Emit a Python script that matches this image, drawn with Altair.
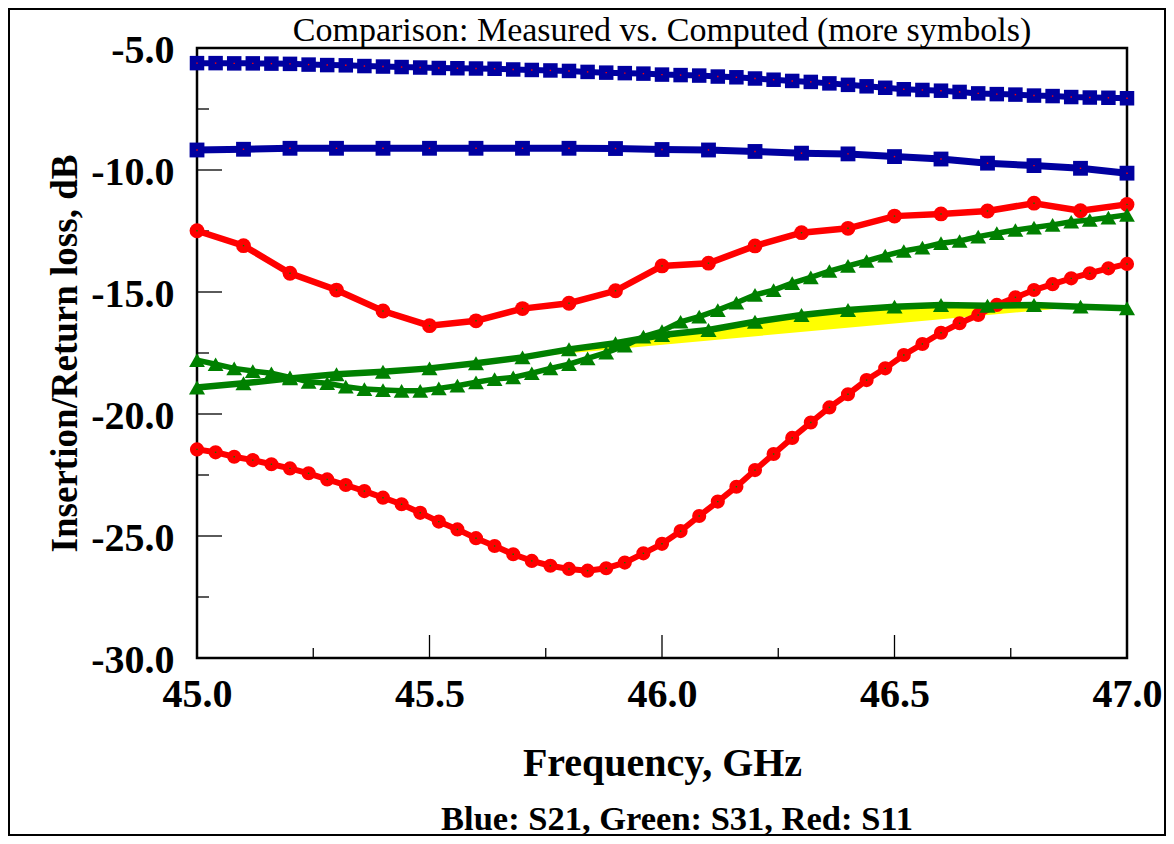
import altair as alt
import pandas as pd

# ---------------- data ----------------
freq_dense = [45.00, 45.04, 45.08, 45.12, 45.16, 45.20, 45.24, 45.28, 45.32, 45.36,
              45.40, 45.44, 45.48, 45.52, 45.56, 45.60, 45.64, 45.68, 45.72, 45.76,
              45.80, 45.84, 45.88, 45.92, 45.96, 46.00, 46.04, 46.08, 46.12, 46.16,
              46.20, 46.24, 46.28, 46.32, 46.36, 46.40, 46.44, 46.48, 46.52, 46.56,
              46.60, 46.64, 46.68, 46.72, 46.76, 46.80, 46.84, 46.88, 46.92, 46.96, 47.00]

freq_sparse = [45.0, 45.1, 45.2, 45.3, 45.4, 45.5, 45.6, 45.7, 45.8, 45.9, 46.0,
               46.1, 46.2, 46.3, 46.4, 46.5, 46.6, 46.7, 46.8, 46.9, 47.0]

s21_dense = [-5.62, -5.62, -5.63, -5.63, -5.64, -5.65, -5.68, -5.70, -5.71, -5.74,
             -5.76, -5.78, -5.80, -5.82, -5.83, -5.84, -5.85, -5.88, -5.90, -5.92,
             -5.94, -5.98, -6.01, -6.03, -6.05, -6.09, -6.11, -6.13, -6.17, -6.20,
             -6.25, -6.30, -6.35, -6.39, -6.45, -6.51, -6.57, -6.63, -6.69, -6.72,
             -6.75, -6.80, -6.86, -6.89, -6.91, -6.95, -6.97, -7.01, -7.03, -7.04, -7.06]

s11_dense = [-21.45, -21.57, -21.75, -21.89, -22.06, -22.23, -22.43, -22.68, -22.91, -23.16,
             -23.43, -23.70, -24.05, -24.41, -24.73, -25.09, -25.41, -25.75, -26.02, -26.22,
             -26.35, -26.42, -26.32, -26.09, -25.71, -25.32, -24.80, -24.18, -23.59, -22.98,
             -22.30, -21.64, -20.98, -20.35, -19.73, -19.19, -18.61, -18.13, -17.58, -17.13,
             -16.67, -16.28, -15.94, -15.53, -15.22, -14.92, -14.68, -14.44, -14.23, -14.03, -13.85]

s31_dense = [-17.79, -17.96, -18.13, -18.24, -18.33, -18.50, -18.68, -18.74, -18.88, -18.98,
             -19.02, -19.05, -19.05, -18.95, -18.84, -18.70, -18.57, -18.50, -18.33, -18.13,
             -17.96, -17.72, -17.49, -17.20, -16.83, -16.60, -16.22, -16.01, -15.74, -15.44,
             -15.12, -14.92, -14.64, -14.40, -14.14, -13.93, -13.73, -13.51, -13.32, -13.18,
             -13.00, -12.91, -12.73, -12.59, -12.46, -12.36, -12.25, -12.12, -12.05, -11.95, -11.84]

s21_sparse = [-9.18, -9.15, -9.11, -9.11, -9.11, -9.11, -9.11, -9.11, -9.11, -9.12, -9.16,
              -9.18, -9.24, -9.31, -9.34, -9.45, -9.55, -9.72, -9.82, -9.93, -10.13]

s11_sparse = [-12.49, -13.10, -14.23, -14.92, -15.78, -16.38, -16.18, -15.68, -15.46, -14.95,
              -13.93, -13.82, -13.11, -12.57, -12.39, -11.89, -11.80, -11.68, -11.36, -11.67, -11.41]

s31_sparse = [-18.91, -18.74, -18.54, -18.37, -18.27, -18.13, -17.92, -17.68, -17.35, -17.10,
              -16.76, -16.56, -16.22, -15.94, -15.74, -15.60, -15.53, -15.56, -15.53, -15.60, -15.67]

fill_start = 45.7
fill_end = 46.9

x_major = [45.0, 45.5, 46.0, 46.5, 47.0]
x_minor = [45.25, 45.75, 46.25, 46.75]
y_major = [-30.0, -25.0, -20.0, -15.0, -10.0, -5.0]
y_minor = [-27.5, -22.5, -17.5, -12.5, -7.5]

title_text = "Comparison: Measured vs. Computed (more symbols)"
x_title = "Frequency, GHz"
y_title = "Insertion/Return loss, dB"
footnote = "Blue: S21, Green: S31, Red: S11"

# ---------------- style ----------------
BLUE = "#0000A0"
GREEN = "#008000"
RED = "#FF0000"
YELLOW = "#FFFF00"
FONT = "Liberation Serif"
W, H = 930, 610

dense = pd.DataFrame({"f": freq_dense, "s21": s21_dense, "s11": s11_dense, "s31": s31_dense})
sparse = pd.DataFrame({"f": freq_sparse, "s21": s21_sparse, "s11": s11_sparse, "s31": s31_sparse})
fill_df = sparse[(sparse["f"] > fill_start - 0.001) & (sparse["f"] < fill_end + 0.001)].reset_index(drop=True)

xs = alt.Scale(domain=[45, 47], nice=False, zero=False)
ys = alt.Scale(domain=[-30, -5], nice=False, zero=False)
lbl = "(datum.value < 0 ? '-' : '') + format(abs(datum.value), '.1f')"

x_axis = alt.Axis(values=x_major, labelExpr=lbl, title=x_title, grid=False, domain=False,
                  ticks=False, tickSize=0, labelFont=FONT, labelFontSize=40,
                  labelFontWeight="bold", labelColor="black", labelPadding=16,
                  labelFlush=False, labelOverlap=False, titleFont=FONT, titleFontSize=40,
                  titleFontWeight="bold", titleColor="black", titleX=465, titleY=117,
                  titleBaseline="alphabetic", titleAlign="center")
y_axis = alt.Axis(values=y_major, labelExpr=lbl, title=y_title, grid=False, domain=False,
                  ticks=False, tickSize=0, labelFont=FONT, labelFontSize=40,
                  labelFontWeight="bold", labelColor="black", labelPadding=23,
                  labelBaseline="alphabetic", labelOffset=14.5,
                  labelFlush=False, labelOverlap=False, titleFont=FONT, titleFontSize=37,
                  titleFontWeight="bold", titleColor="black", titleAngle=270,
                  titleX=-121, titleY=305, titleBaseline="alphabetic", titleAlign="center")


def X(field="f"):
    return alt.X(f"{field}:Q", scale=xs, axis=x_axis, title=x_title)


def Y(field):
    return alt.Y(f"{field}:Q", scale=ys, axis=y_axis, title=y_title)


# yellow filled region (closed polygon of measured S31 segment)
yellow = alt.Chart(fill_df).mark_line(fill=YELLOW, strokeOpacity=0).encode(x=X(), y=Y("s31"))


# inward ticks
def tick_layer(values, axis, length):
    df = pd.DataFrame({"v": values})
    m = alt.Chart(df).mark_rule(color="black", strokeWidth=1.3)
    if axis == "x":
        return m.encode(x=X("v"), y=alt.value(H), y2=alt.value(H - length))
    return m.encode(y=Y("v"), x=alt.value(0), x2=alt.value(length))


ticks = [tick_layer(x_major, "x", 23), tick_layer(x_minor, "x", 10),
         tick_layer(y_major, "y", 25), tick_layer(y_minor, "y", 12)]


def series(df, field, color, width, shape, size, dot_color):
    base = alt.Chart(df)
    line = base.mark_line(color=color, strokeWidth=width).encode(x=X(), y=Y(field))
    pts = base.mark_point(shape=shape, filled=True, size=size, color=color, opacity=1).encode(
        x=X(), y=Y(field))
    dots = base.mark_point(shape="square", filled=True, size=2, color=dot_color, opacity=1).encode(
        x=X(), y=Y(field))
    return [line, pts, dots]


layers = [yellow] + ticks
layers += series(dense, "s21", BLUE, 6, "square", 210, RED)
layers += series(sparse, "s21", BLUE, 7, "square", 220, RED)
layers += series(sparse, "s11", RED, 6.5, "circle", 220, GREEN)
layers += series(dense, "s11", RED, 6, "circle", 200, GREEN)
layers += series(sparse, "s31", GREEN, 6.5, "triangle-up", 260, GREEN)
layers += series(dense, "s31", GREEN, 5.5, "triangle-up", 250, GREEN)

title = alt.Chart(pd.DataFrame({"t": [title_text]})).mark_text(
    font=FONT, fontSize=34, fontWeight="normal", align="center", baseline="alphabetic",
    color="black").encode(text="t:N", x=alt.value(W / 2), y=alt.value(-7))

foot = alt.Chart(pd.DataFrame({"t": [footnote]})).mark_text(
    font=FONT, fontSize=34.5, fontWeight="bold", align="center", baseline="alphabetic",
    color="black").encode(text="t:N", x=alt.value(480), y=alt.value(782))

border = alt.Chart(pd.DataFrame({"a": [0]})).mark_rect(
    fill="white", fillOpacity=0, stroke="black", strokeWidth=2).encode(
    x=alt.value(-188), x2=alt.value(968), y=alt.value(-39), y2=alt.value(787))

layers += [title, foot, border]

chart = alt.layer(*layers).properties(
    width=W, height=H,
    autosize=alt.AutoSizeParams(type="none"),
    padding={"left": 189, "top": 40, "right": 39, "bottom": 178},
    background="white",
).configure_view(stroke="black", strokeWidth=2.5)

chart.save("out.html", embed_options={"renderer": "svg", "actions": False})
